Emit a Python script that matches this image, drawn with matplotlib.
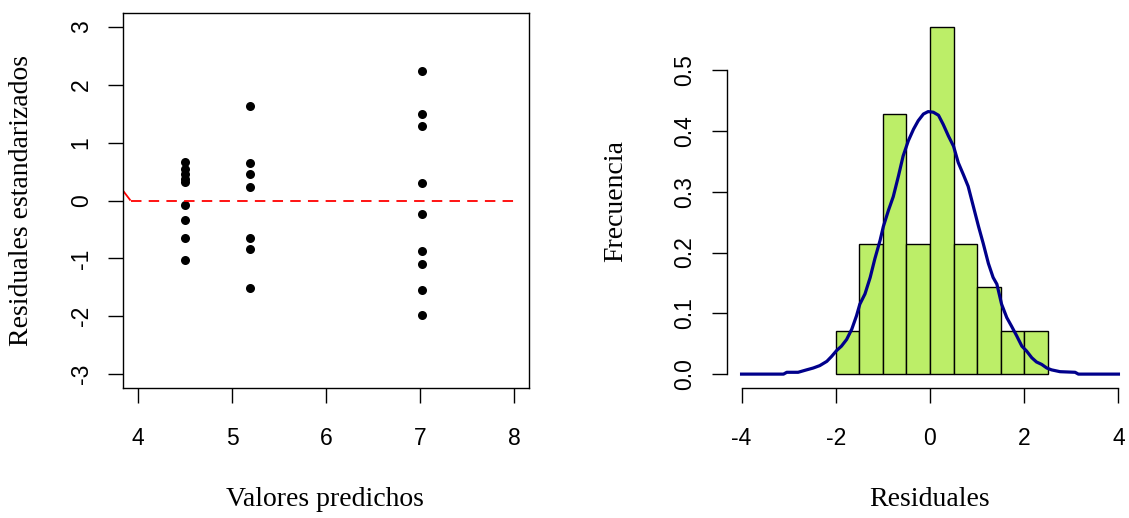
import matplotlib
matplotlib.use("Agg")
import matplotlib.pyplot as plt

# ---- Residuales estandarizados vs valores predichos ----
pred_grupo = [4.5, 5.19, 7.02]
resid_g1 = [0.66, 0.55, 0.45, 0.37, 0.32, -0.07, -0.34, -0.65, -1.02]
resid_g2 = [1.64, 0.65, 0.45, 0.23, -0.65, -0.84, -1.51]
resid_g3 = [2.24, 1.49, 1.29, 0.31, -0.24, -0.87, -1.10, -1.54, -1.97]

# linea de referencia (tendencia) sobre cero
ref_x = [3.84, 3.92]
ref_y = [0.17, 0.0]
cero_x = [3.92, 8.03]
cero_y = [0.0, 0.0]

xticks_izq = [4, 5, 6, 7, 8]
yticks_izq = [-3, -2, -1, 0, 1, 2, 3]

# ---- Histograma de residuales con densidad ----
bordes = [-2.0, -1.5, -1.0, -0.5, 0.0, 0.5, 1.0, 1.5, 2.0, 2.5]
frecuencia = [0.0714, 0.2143, 0.4286, 0.2143, 0.5714, 0.2143, 0.1429, 0.0714, 0.0714]

dens_x = [-4.0, -3.11, -3.04, -2.80, -2.62, -2.48, -2.34, -2.19, -2.09, -1.98,
          -1.88, -1.77, -1.66, -1.56, -1.49, -1.38, -1.27, -1.17, -1.06, -0.99,
          -0.88, -0.78, -0.67, -0.57, -0.46, -0.35, -0.25, -0.14, -0.04, 0.07,
          0.18, 0.28, 0.39, 0.50, 0.60, 0.71, 0.81, 0.92, 1.03, 1.13,
          1.24, 1.34, 1.42, 1.52, 1.63, 1.73, 1.84, 1.95, 2.05, 2.16,
          2.26, 2.37, 2.48, 2.58, 2.76, 3.08, 3.15, 4.0]
dens_y = [0.0, 0.0, 0.003, 0.003, 0.007, 0.010, 0.014, 0.021, 0.029, 0.039,
          0.046, 0.057, 0.074, 0.096, 0.115, 0.132, 0.159, 0.190, 0.220, 0.243,
          0.270, 0.292, 0.326, 0.359, 0.384, 0.403, 0.417, 0.428, 0.432, 0.431,
          0.426, 0.411, 0.392, 0.375, 0.348, 0.328, 0.309, 0.276, 0.243, 0.215,
          0.182, 0.159, 0.148, 0.115, 0.093, 0.079, 0.063, 0.046, 0.038, 0.027,
          0.020, 0.016, 0.010, 0.007, 0.004, 0.003, 0.0, 0.0]

xticks_der = [-4, -2, 0, 2, 4]
yticks_der = [0.0, 0.1, 0.2, 0.3, 0.4, 0.5]

# ---- estilo ----
fuente_ticks = dict(family="Liberation Sans", size=16.5)
fuente_titulo = dict(family="Liberation Serif", size=20)
lw_eje = 1.0
tick_len = 10.8

W, H = 1129, 518
fig = plt.figure(figsize=(W / 100, H / 100), dpi=100)


def rect(x0, y0, x1, y1):
    return [x0 / W, 1 - y1 / H, (x1 - x0) / W, (y1 - y0) / H]


def rango_r(lo, hi):
    d = (hi - lo) * 0.04
    return lo - d, hi + d


def estilo_ejes(ax):
    ax.tick_params(axis="both", length=tick_len, width=lw_eje, direction="out")
    ax.tick_params(axis="x", pad=17)
    ax.tick_params(axis="y", pad=11, labelrotation=90)
    for t in ax.get_yticklabels():
        t.set_va("center")
    ax.xaxis.label.set_va("center")
    ax.yaxis.label.set_va("center")


# ---------------- panel izquierdo ----------------
ax1 = fig.add_axes(rect(123, 13, 529, 388))
xs, ys = [], []
for gx, grp in zip(pred_grupo, [resid_g1, resid_g2, resid_g3]):
    xs += [gx] * len(grp)
    ys += grp
ax1.plot(xs, ys, "o", color="black", markersize=6.5, markeredgewidth=0)
ax1.plot(ref_x, ref_y, color="red", lw=1.3, solid_capstyle="butt")
ax1.plot(cero_x, cero_y, color="red", lw=1.3, linestyle=(0, (5.8, 4.0)),
         dash_capstyle="butt")
ax1.set_xlim(*rango_r(4, 8))
ax1.set_ylim(*rango_r(-3, 3))
ax1.set_xticks(xticks_izq)
ax1.set_yticks(yticks_izq)
ax1.set_xticklabels([str(v) for v in xticks_izq], **fuente_ticks)
ax1.set_yticklabels([str(v) for v in yticks_izq], **fuente_ticks)
for s in ax1.spines.values():
    s.set_linewidth(lw_eje)
ax1.set_xlabel("Valores predichos", **fuente_titulo)
ax1.set_ylabel("Residuales estandarizados", **fuente_titulo)
estilo_ejes(ax1)
ax1.xaxis.set_label_coords((325 - 123) / 406, -(500 - 388) / 375)
ax1.yaxis.set_label_coords(-(123 - 22) / 406, 0.5)

# ---------------- panel derecho ----------------
ax2 = fig.add_axes(rect(726.5, 13, 1133.5, 388))
ancho = [b1 - b0 for b0, b1 in zip(bordes[:-1], bordes[1:])]
ax2.bar(bordes[:-1], frecuencia, width=ancho, align="edge",
        color="#BCEE68", edgecolor="black", linewidth=1.0)
ax2.plot(dens_x, dens_y, color="#00008B", lw=2.3, solid_joinstyle="round")
ax2.set_xlim(*rango_r(-4, 4))
ax2.set_ylim(*rango_r(0, max(frecuencia)))
ax2.set_xticks(xticks_der)
ax2.set_yticks(yticks_der)
ax2.set_xticklabels([str(v) for v in xticks_der], **fuente_ticks)
ax2.set_yticklabels([f"{v:.1f}" for v in yticks_der], **fuente_ticks)
ax2.spines["top"].set_visible(False)
ax2.spines["right"].set_visible(False)
ax2.spines["left"].set_bounds(yticks_der[0], yticks_der[-1])
ax2.spines["bottom"].set_bounds(xticks_der[0], xticks_der[-1])
for s in ("left", "bottom"):
    ax2.spines[s].set_linewidth(lw_eje)
ax2.set_xlabel("Residuales", **fuente_titulo)
ax2.set_ylabel("Frecuencia", **fuente_titulo)
estilo_ejes(ax2)
ax2.xaxis.set_label_coords((930 - 726.5) / 407, -(500 - 388) / 375)
ax2.yaxis.set_label_coords(-(726.5 - 616) / 407, 0.5)

fig.savefig("out.png", dpi=100)
